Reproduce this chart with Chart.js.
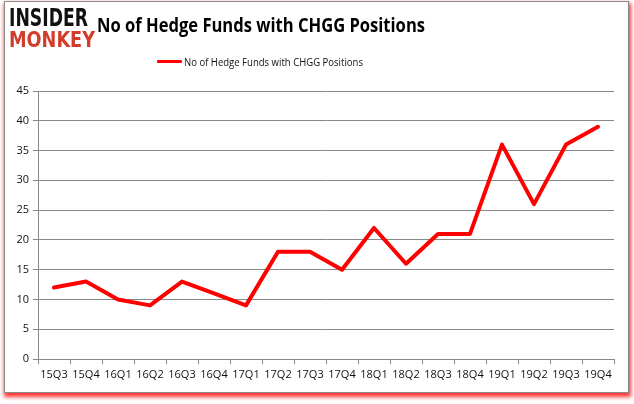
<!DOCTYPE html>
<html>
<head>
<meta charset="utf-8">
<script src="https://cdn.jsdelivr.net/npm/chart.js@4"></script>
<style>
  html, body { margin:0; padding:0; background:#fff; width:634px; height:404px; overflow:hidden; }
  #frame { position:absolute; left:4px; top:1px; width:625px; height:392px; box-sizing:border-box;
           border:1px solid #8a8a8a; background:#fff; box-shadow: 1px 3px 4px 1px rgba(255,0,0,0.8); }
  #wrap { position:absolute; left:0; top:0; width:634px; height:404px; }
  .fit { position:absolute; white-space:nowrap; transform-origin:0 0; }
  #logo1 { left:9px; top:4px; font:900 24px "DejaVu Sans"; color:#111; letter-spacing:0px; }
  #logo2 { left:9px; top:28px; font:900 21px "DejaVu Sans"; color:#d23c2a; }
  #title { left:97px; top:11px; font:bold 20px "Open Sans"; color:#000; }
  #legline { position:absolute; left:157px; top:60px; width:25px; height:3px; background:#ff0000; border-radius:1px; }
  #legtext { left:184px; top:54px; font:11px "Open Sans"; color:#111; }
</style>
</head>
<body>
<div id="frame"></div>
<div id="wrap"><canvas id="c" width="634" height="404"></canvas></div>
<div id="logo1" class="fit">INSIDER</div>
<div id="logo2" class="fit">MONKEY</div>
<div id="title" class="fit">No of Hedge Funds with CHGG Positions</div>
<div id="legline"></div>
<div id="legtext" class="fit">No of Hedge Funds with CHGG Positions</div>
<script>
const categories = ["15Q3","15Q4","16Q1","16Q2","16Q3","16Q4","17Q1","17Q2","17Q3","17Q4","18Q1","18Q2","18Q3","18Q4","19Q1","19Q2","19Q3","19Q4"];
const hedgeFunds = [12,13,10,9,13,11,9,18,18,15,22,16,21,21,36,26,36,39];
const yTicks = [0,5,10,15,20,25,30,35,40,45];
const seriesName = "No of Hedge Funds with CHGG Positions";

function fitWidth(id, w) {
  const el = document.getElementById(id);
  const cur = el.getBoundingClientRect().width;
  el.style.transform = 'scaleX(' + (w / cur) + ')';
}
fitWidth('logo1', 79);
fitWidth('logo2', 86);
fitWidth('title', 328);
fitWidth('legtext', 179);

Chart.defaults.font.family = '"Open Sans", "Liberation Sans", sans-serif';
Chart.defaults.color = '#222';

new Chart(document.getElementById('c'), {
  type: 'line',
  data: {
    labels: categories,
    datasets: [{
      label: seriesName,
      data: hedgeFunds,
      borderColor: '#ff0000',
      backgroundColor: '#ff0000',
      borderWidth: 4,
      pointRadius: 0,
      tension: 0,
      borderJoinStyle: 'round',
      borderCapStyle: 'round'
    }]
  },
  options: {
    responsive: false,
    animation: false,
    devicePixelRatio: 1,
    layout: { padding: { left: 0, top: 91, right: 20, bottom: 15 } },
    plugins: { legend: { display: false }, tooltip: { enabled: false } },
    scales: {
      x: {
        offset: true,
        grid: { offset: true, drawOnChartArea: false, drawTicks: true, tickLength: 5, color: '#888' },
        border: { color: '#888' },
        ticks: { font: { size: 11 }, color: '#111', padding: 4, maxRotation: 0, autoSkip: false },
        afterFit: s => { s.height = 30; }
      },
      y: {
        min: 0, max: 45,
        afterBuildTicks: s => { s.ticks = yTicks.map(v => ({ value: v })); },
        grid: { color: '#888', tickLength: 5 },
        border: { color: '#888' },
        ticks: { font: { size: 11 }, color: '#111', padding: 4 },
        afterFit: s => { s.width = 38; }
      }
    }
  }
});
</script>
</body>
</html>
